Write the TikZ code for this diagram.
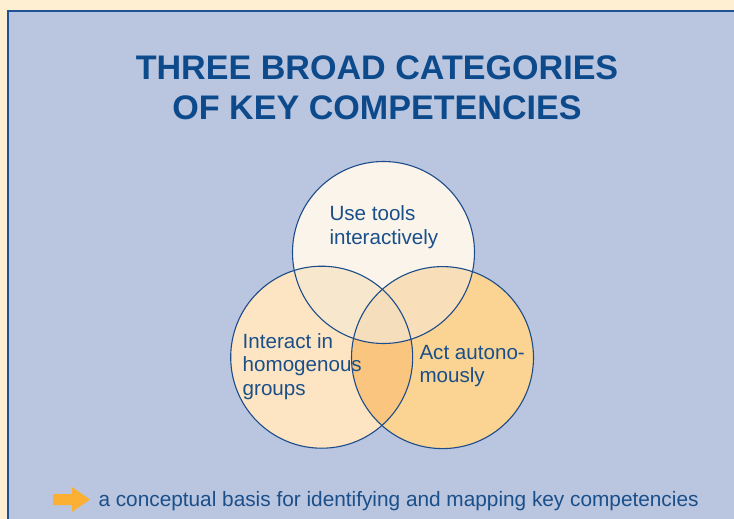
\documentclass[tikz,border=0pt]{standalone}
\usepackage{fontspec}
\setmainfont{Liberation Sans}
\definecolor{cream}{HTML}{FEEED2}
\definecolor{panel}{HTML}{BAC5DF}
\definecolor{panelborder}{HTML}{1E5196}
\definecolor{titleblue}{HTML}{0D4A8C}
\definecolor{textblue}{HTML}{1A4F8A}
\definecolor{ringblue}{HTML}{1C4C8A}
\definecolor{cT}{HTML}{FAF4EA}
\definecolor{cL}{HTML}{FDE5C3}
\definecolor{cR}{HTML}{FBD493}
\definecolor{cTL}{HTML}{F7E7CC}
\definecolor{cTR}{HTML}{F8DEB9}
\definecolor{cLR}{HTML}{F9C57F}
\definecolor{cC}{HTML}{F5DEBB}
\definecolor{arroworange}{HTML}{FBB034}
\begin{document}
\begin{tikzpicture}[x=1pt,y=-1pt,
  titletext/.style={anchor=base,inner sep=0pt,text=titleblue,font=\fontsize{34.1}{40}\selectfont\bfseries},
  bodytext/.style={anchor=base west,inner sep=0pt,text=textblue,font=\fontsize{20.6}{24}\selectfont},
  ring/.style={circle,draw=ringblue,line width=1.1pt,minimum size=182pt,inner sep=0pt}]
\useasboundingbox (0,0) rectangle (734,519);
\fill[cream] (0,0) rectangle (734,519);
\filldraw[fill=panel,draw=panelborder,line width=1.6pt] (8,10.8) rectangle (745,530);
% title
\node[titletext] (title1) at (377,80) {THREE BROAD CATEGORIES};
\node[titletext] (title2) at (377,120) {OF KEY COMPETENCIES};
% circle centres
\coordinate (T) at (383.5,252.5);
\coordinate (L) at (321.7,357.2);
\coordinate (R) at (442.5,357.6);
% fills
\fill[cL] (L) circle[radius=91pt];
\fill[cR] (R) circle[radius=91pt];
\begin{scope}
  \clip (L) circle[radius=91pt];
  \fill[cLR] (R) circle[radius=91pt];
\end{scope}
\fill[cT] (T) circle[radius=91pt];
\begin{scope}
  \clip (T) circle[radius=91pt];
  \fill[cTL] (L) circle[radius=91pt];
  \fill[cTR] (R) circle[radius=91pt];
  \clip (L) circle[radius=91pt];
  \fill[cC] (R) circle[radius=91pt];
\end{scope}
% outlines
\node[ring] (ringL) at (L) {};
\node[ring] (ringR) at (R) {};
\node[ring] (ringT) at (T) {};
% labels
\node[bodytext] (t1) at (329.3,220) {Use tools};
\node[bodytext] (t2) at (329.3,244) {interactively};
\node[bodytext] (l1) at (242.5,348.3) {Interact in};
\node[bodytext] (l2) at (242.5,371.8) {homogenous};
\node[bodytext] (l3) at (242.5,395.3) {groups};
\node[bodytext] (r1) at (419.3,359.3) {Act autono-};
\node[bodytext] (r2) at (419.3,382.8) {mously};
% bottom line
\fill[arroworange] (53,494) -- (72,494) -- (72,487) -- (90,499.5) -- (72,512) -- (72,505) -- (53,505) -- cycle;
\node[bodytext,font=\fontsize{20.8}{24}\selectfont] (basis) at (98.3,506) {a conceptual basis for identifying and mapping key competencies};
\end{tikzpicture}
\end{document}
